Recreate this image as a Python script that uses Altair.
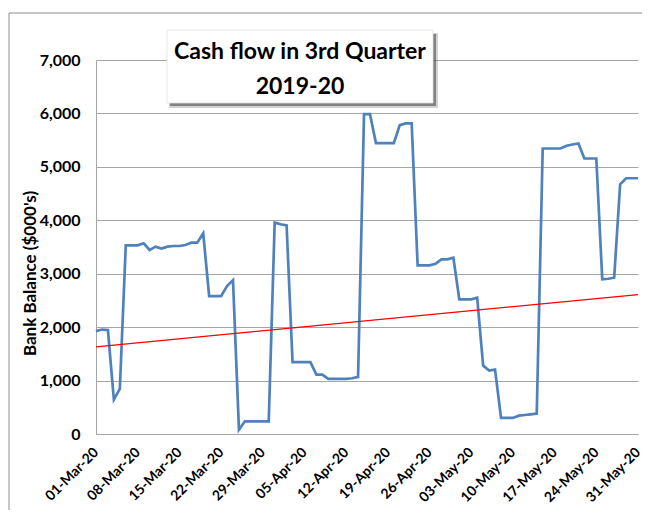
import altair as alt
import pandas as pd

# ---- data ----
start_date = "2020-03-01"
end_date = "2020-05-31"
balance = [
    1925, 1956, 1945, 644, 844, 3531, 3531, 3531, 3570, 3444,
    3506, 3469, 3506, 3519, 3519, 3537, 3581, 3581, 3756, 2581,
    2581, 2581, 2769, 2881, 81, 237, 237, 237, 237, 237,
    3956, 3925, 3906, 1344, 1344, 1344, 1344, 1112, 1112, 1031,
    1031, 1031, 1031, 1044, 1069, 5987, 5987, 5444, 5444, 5444,
    5444, 5781, 5812, 5812, 3156, 3156, 3156, 3187, 3269, 3269,
    3300, 2519, 2519, 2519, 2550, 1281, 1187, 1206, 300, 300,
    300, 344, 356, 369, 381, 5344, 5344, 5344, 5344, 5394,
    5419, 5437, 5156, 5156, 5156, 2894, 2906, 2925, 4675, 4787,
    4787, 4787,
]
trend_dates = ["2020-03-01T00:00:00", "2020-05-31T00:00:00"]
trend_values = [1630, 2610]
tick_dates = [
    (3, 1), (3, 8), (3, 15), (3, 22), (3, 29), (4, 5), (4, 12),
    (4, 19), (4, 26), (5, 3), (5, 10), (5, 17), (5, 24), (5, 31),
]
y_ticks = [0, 1000, 2000, 3000, 4000, 5000, 6000, 7000]
title_lines = ["Cash flow in 3rd Quarter", "2019-20"]
y_title = "Bank Balance ($000's)"

dates = pd.date_range(start_date, end_date, freq="D").strftime("%Y-%m-%dT00:00:00")
df = pd.DataFrame({"date": list(dates), "balance": balance})
trend_df = pd.DataFrame({"date": trend_dates, "balance": trend_values})

FONT = "Lato"
W, H = 542, 374

x_enc = alt.X(
    "date:T",
    scale=alt.Scale(domain=[alt.DateTime(year=2020, month=3, date=1),
                            alt.DateTime(year=2020, month=5, date=31)]),
    axis=alt.Axis(
        values=[alt.DateTime(year=2020, month=m, date=d) for m, d in tick_dates],
        format="%d-%b-%y", labelAngle=-45, labelAlign="right", labelBaseline="middle",
        labelFont=FONT, labelFontWeight="bold", labelFontSize=14, labelColor="#000000",
        labelPadding=16, ticks=False, grid=False, domainColor="#a6a6a6",
        labelOverlap=False, labelBound=False, title=None,
    ),
)
y_enc = alt.Y(
    "balance:Q",
    scale=alt.Scale(domain=[0, 7000]),
    axis=alt.Axis(
        values=y_ticks, format=",.0f", labelFont=FONT, labelFontWeight="bold",
        labelFontSize=16, labelColor="#000000", labelPadding=16, ticks=False,
        grid=True, gridColor="#a6a6a6", gridWidth=1, domainColor="#a6a6a6",
        title=y_title, titleFont=FONT, titleFontWeight="bold", titleFontSize=17,
        titleColor="#000000", titleX=-66, titleY=213, titleAlign="center",
        titleBaseline="middle", titleAngle=-90,
    ),
)

line = alt.Chart(df).mark_line(color="#4F81BD", strokeWidth=2.7).encode(x=x_enc, y=y_enc)

trend = alt.Chart(trend_df).mark_line(color="#FF0000", strokeWidth=1.2).encode(
    x="date:T", y="balance:Q"
)

box_df = pd.DataFrame({"k": [0]})
border = alt.Chart(box_df).mark_rect(fill="transparent", stroke="#8c8c8c", strokeWidth=1).encode(
    x=alt.value(-87), x2=alt.value(700), y=alt.value(-47), y2=alt.value(600)
)
shadow1 = alt.Chart(box_df).mark_rect(color="#7f7f7f", opacity=0.35).encode(
    x=alt.value(73), x2=alt.value(342), y=alt.value(-27), y2=alt.value(48)
)
shadow2 = alt.Chart(box_df).mark_rect(color="#404040", opacity=0.55).encode(
    x=alt.value(74), x2=alt.value(340), y=alt.value(-26), y2=alt.value(46)
)
box = alt.Chart(box_df).mark_rect(fill="#ffffff", stroke="#e0e0e0", strokeWidth=0.8).encode(
    x=alt.value(71), x2=alt.value(337), y=alt.value(-30), y2=alt.value(43)
)
tdf = pd.DataFrame({"text": title_lines, "row": [0, 1]})
title1 = alt.Chart(tdf).transform_filter("datum.row == 0").mark_text(
    font=FONT, fontWeight="bold", fontSize=23, color="#000000", align="center", baseline="alphabetic"
).encode(text="text:N", x=alt.value(204), y=alt.value(-1))
title2 = alt.Chart(tdf).transform_filter("datum.row == 1").mark_text(
    font=FONT, fontWeight="bold", fontSize=23, color="#000000", align="center", baseline="alphabetic"
).encode(text="text:N", x=alt.value(204), y=alt.value(34))

chart = (
    alt.layer(line, trend, border, shadow1, shadow2, box, title1, title2)
    .properties(
        width=W, height=H,
        autosize=alt.AutoSizeParams(type="none"),
        padding={"left": 88, "top": 52, "right": 4, "bottom": 76},
        background="#ffffff",
    )
    .configure_view(strokeWidth=0)
)

chart.save("out.html", embed_options={"renderer": "svg", "actions": False})
